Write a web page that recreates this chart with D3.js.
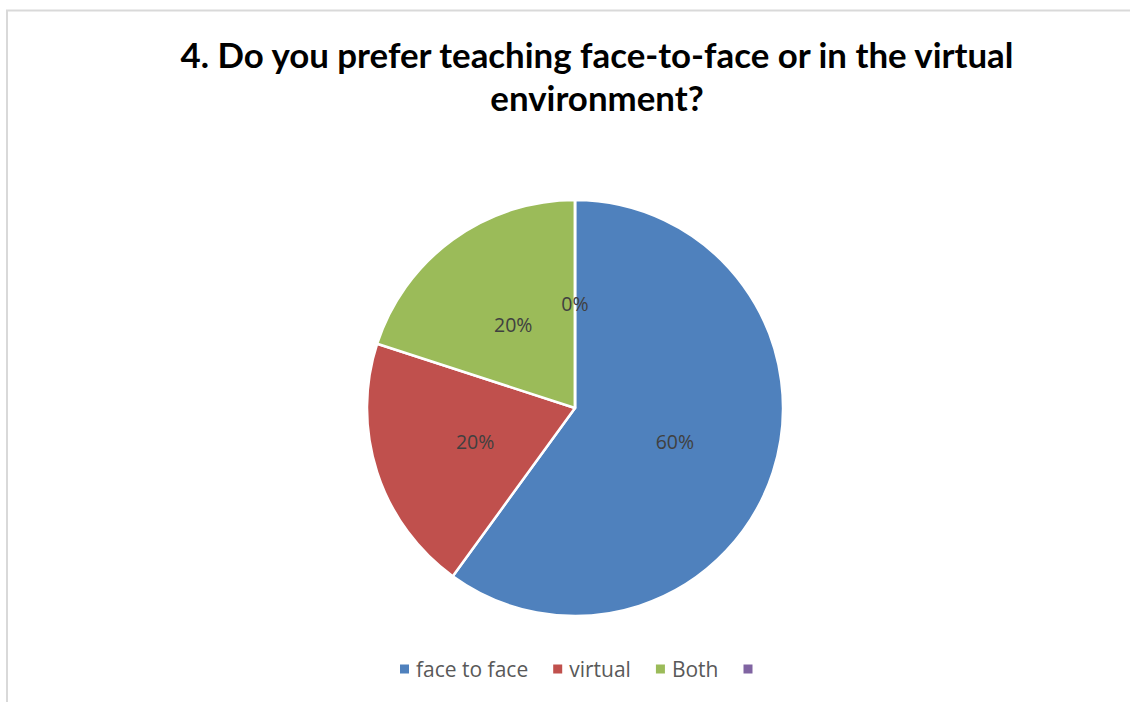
<!DOCTYPE html>
<html><head><meta charset="utf-8">
<script src="https://cdn.jsdelivr.net/npm/d3@7"></script>
<style>body{margin:0;background:#fff;} svg{display:block;}</style>
</head><body>
<svg id="chart" width="1130" height="702"></svg>
<script>
const categories = ["face to face", "virtual", "Both", ""];
const values = [60, 20, 20, 0];
const labels = ["60%", "20%", "20%", "0%"];
const colors = ["#4F81BD", "#C0504D", "#9BBB59", "#8064A2"];
const titleLines = ["4. Do you prefer teaching face-to-face or in the virtual", "environment?"];

const svg = d3.select("#chart");
const W = 1130, H = 702;
svg.append("rect").attr("x", 7).attr("y", 10.5).attr("width", W).attr("height", H)
  .attr("fill", "#fff").attr("stroke", "#d9d9d9").attr("stroke-width", 2);

const font = "Lato, 'Open Sans', sans-serif";
// title
const t1 = svg.append("text").attr("x", 597).attr("y", 68).attr("text-anchor", "middle")
  .attr("font-family", font).attr("font-weight", "bold").attr("font-size", 32).attr("fill", "#000")
  .text(titleLines[0]);
const w1 = t1.node().getComputedTextLength();
const fs = 32 * 833 / w1;
t1.attr("font-size", fs);
svg.append("text").attr("x", 597).attr("y", 111).attr("text-anchor", "middle")
  .attr("font-family", font).attr("font-weight", "bold").attr("font-size", fs).attr("fill", "#000")
  .text(titleLines[1]);

// pie
const cx = 575, cy = 408, R = 208;
const pie = d3.pie().sort(null).value(d => d)(values);
const arc = d3.arc().innerRadius(0).outerRadius(R);
const labelArc = d3.arc().innerRadius(R * 0.505).outerRadius(R * 0.505);
const g = svg.append("g").attr("transform", `translate(${cx},${cy})`);
g.selectAll("path").data(pie).enter().append("path")
  .attr("d", arc).attr("fill", (d, i) => colors[i])
  .attr("stroke", "#fff").attr("stroke-width", 2.5).attr("stroke-linejoin", "round");
g.selectAll("text.lbl").data(pie).enter().append("text").attr("class", "lbl")
  .attr("transform", d => { const c = labelArc.centroid(d); return `translate(${c[0]},${c[1] + 1})`; })
  .attr("text-anchor", "middle").attr("dominant-baseline", "central")
  .attr("font-family", "'Open Sans', sans-serif").attr("font-size", 19.5).attr("fill", "#404040")
  .text((d, i) => labels[i]);

// legend
const lg = svg.append("g");
let x = 400;
const ly = 669;
categories.forEach((c, i) => {
  lg.append("rect").attr("x", x).attr("y", ly - 4.5).attr("width", 9).attr("height", 9).attr("fill", colors[i]);
  const t = lg.append("text").attr("x", x + 16).attr("y", ly).attr("dominant-baseline", "central")
    .attr("font-family", "'Open Sans', sans-serif").attr("font-size", 21).attr("fill", "#595959").text(c);
  const tw = c ? t.node().getComputedTextLength() : 0;
  x = x + 16 + tw + 25;
});
</script>
</body></html>
